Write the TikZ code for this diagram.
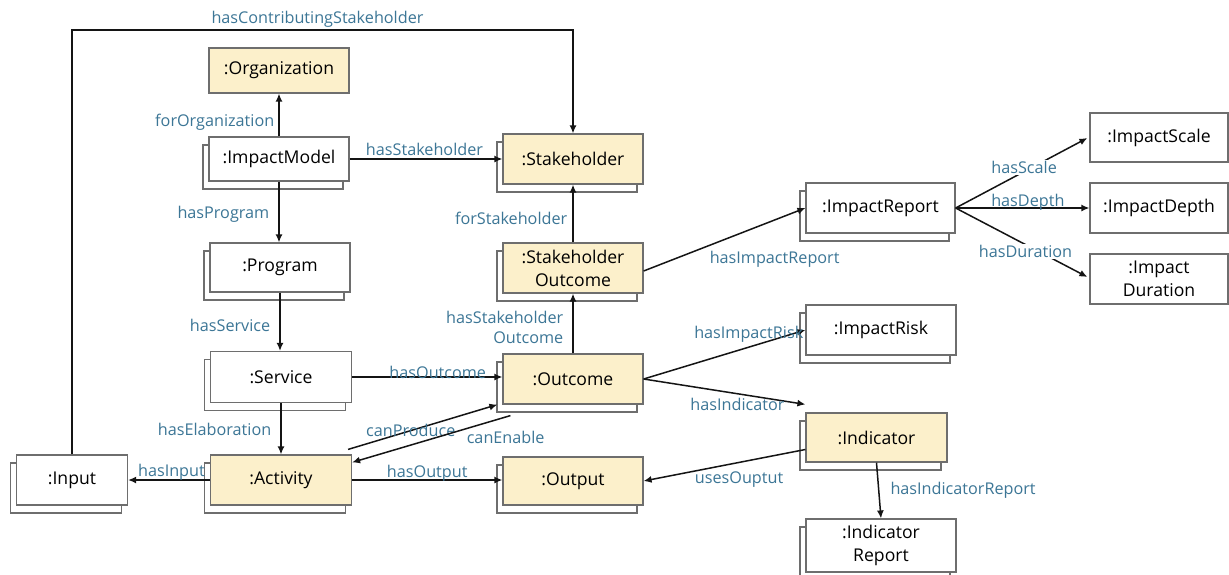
\documentclass[tikz,border=0pt]{standalone}
\usepackage{fontspec}
\setmainfont{Open Sans}
\usetikzlibrary{arrows.meta,shadows}
\definecolor{boxfill}{RGB}{252,240,203}
\definecolor{boxline}{RGB}{110,110,110}
\definecolor{lblcol}{RGB}{60,118,150}
\definecolor{arrcol}{RGB}{20,20,20}
\tikzset{
  box/.style={draw=boxline, line width=1.2pt, fill=white, minimum width=140pt,
    minimum height=50pt, align=center, inner sep=2pt,
    font=\fontsize{17.6}{23}\selectfont},
  stack/.style={copy shadow={shadow xshift=-6pt, shadow yshift=-8pt, fill=white,
    draw=boxline, line width=1.2pt}},
  yel/.style={fill=boxfill},
  arr/.style={draw=arrcol, line width=1.5pt, -{Latex[length=8pt,width=7pt]}},
  lbl/.style={text=lblcol, font=\fontsize{16.2}{20}\selectfont, inner sep=1pt, align=right},
}
\begin{document}
\begin{tikzpicture}[x=1pt,y=-1pt]
\useasboundingbox[fill=white] (0,0) rectangle (1229,574);
% nodes
\node[box,yel,minimum height=45pt] (org) at (279,70.5) {:Organization};
\node[box,stack,minimum height=44pt] (im) at (279,159) {:ImpactModel};
\node[box,stack,minimum height=49pt] (prog) at (280,267.5) {:Program};
\node[box,stack,minimum width=141pt,minimum height=51pt] (serv) at (281,377) {:Service};
\node[box,stack,yel,minimum width=141pt] (act) at (281,480) {:Activity};
\node[box,stack,minimum width=111pt] (inp) at (72,480) {:Input};
\node[box,stack,yel] (sh) at (573,159) {:Stakeholder};
\node[box,stack,yel] (sho) at (573,268) {:Stakeholder\\Outcome};
\node[box,stack,yel] (out) at (573,379) {:Outcome};
\node[box,stack,yel,minimum height=48pt] (outp) at (573,481) {:Output};
\node[box,stack,minimum width=149pt] (ir) at (880.5,208) {:ImpactReport};
\node[box,minimum width=138pt,minimum height=49pt] (isc) at (1159,137.5) {:ImpactScale};
\node[box,minimum width=138pt] (idp) at (1159,208) {:ImpactDepth};
\node[box,minimum width=138pt] (idu) at (1159,279) {:Impact\\Duration};
\node[box,stack,minimum width=150pt] (risk) at (881,330) {:ImpactRisk};
\node[box,stack,yel,minimum width=141pt,minimum height=49pt] (ind) at (876.5,437.5) {:Indicator};
\node[box,stack,minimum width=150pt,minimum height=53pt] (indr) at (881,545.5) {:Indicator\\Report};
% corner coordinates
\coordinate (topl) at (72,30);
\coordinate (topr) at (573,30);
% connectors
\draw[arr] (im.north) -- node[lbl,left=3pt,pos=0.34]{forOrganization} (im.north |- org.south);
\draw[arr] (im.east) -- node[lbl,above=2pt,pos=0.49]{hasStakeholder} (sh.west);
\draw[arr] (im.south) -- node[lbl,left=8pt,pos=0.53]{hasProgram} (im.south |- prog.north);
\draw[arr] (prog.south) -- node[lbl,left=8pt,pos=0.57]{hasService} (prog.south |- serv.north);
\draw[arr] (serv.south) -- node[lbl,left=8pt,pos=0.52]{hasElaboration} (act.north);
\draw[arr] (serv.east) -- node[lbl,above=-3pt,pos=0.57]{hasOutcome} (serv.east -| out.west);
\draw[arr] ([xshift=-4pt,yshift=5pt]act.north east) -- node[lbl,pos=0.42]{canProduce} ([xshift=-5pt]out.south west);
\draw[arr] ([xshift=8pt,yshift=-11pt]out.south west) -- node[lbl,pos=0.03,anchor=north,yshift=-12pt]{canEnable} ([yshift=-8pt]act.north east);
\draw[arr] (act.east) -- node[lbl,above=-3pt,pos=0.5]{hasOutput} (act.east -| outp.west);
\draw[arr] (act.west) -- node[lbl,above=-2pt,pos=0.47]{hasInput} (inp.east);
\draw[arr] (inp.north) -- (topl) -- node[lbl,above=1pt,pos=0.49]{hasContributingStakeholder} (topr) -- (sh.north);
\draw[arr] (out.north) -- node[lbl,left=8pt,pos=0.43]{hasStakeholder\\Outcome} (sho.south);
\draw[arr] (sho.north) -- node[lbl,left=4pt,pos=0.42]{forStakeholder} (sh.south);
\draw[arr] ([yshift=-3pt]sho.east) -- node[lbl,pos=0.81,anchor=north,yshift=-29pt]{hasImpactReport} (ir.west);
\draw[arr] (ir.east) -- node[lbl,fill=white,pos=0.52,yshift=4pt]{hasScale} ([xshift=-2pt,yshift=-0.5pt]isc.west);
\draw[arr] (ir.east) -- node[lbl,above=-4pt,pos=0.54]{hasDepth} (idp.west);
\draw[arr] (ir.east) -- node[lbl,fill=white,pos=0.53,yshift=-7pt]{hasDuration} ([xshift=-2pt,yshift=2pt]idu.west);
\draw[arr] (out.east) -- node[lbl,pos=0.65,above=3pt]{hasImpactRisk} (risk.west);
\draw[arr] (out.east) -- node[lbl,pos=0.58,below=3pt]{hasIndicator} ([yshift=8pt]ind.north west);
\draw[arr] ([yshift=-12pt]ind.west) -- node[lbl,pos=0.41,below=8pt]{usesOuptut} (outp.east);
\draw[arr] (ind.south) -- node[lbl,right=10pt,pos=0.5]{hasIndicatorReport} (indr.north);
\end{tikzpicture}
\end{document}
